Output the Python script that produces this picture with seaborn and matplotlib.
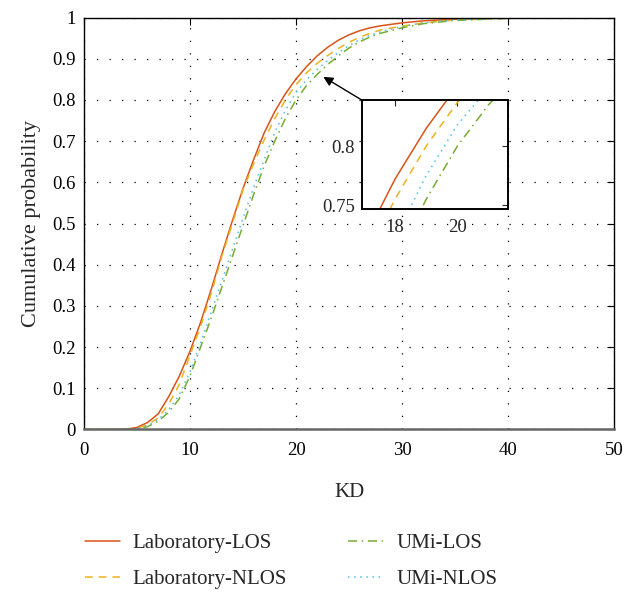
import numpy as np
import pandas as pd
import matplotlib
matplotlib.use("Agg")
import matplotlib.pyplot as plt
import seaborn as sns

# values (KD, cumulative probability)
kd = [0, 2, 3, 4, 5, 6, 7, 8, 9, 10, 11, 12, 13, 14, 15, 16, 17, 18, 19, 20,
      21, 22, 23, 24, 25, 26, 27, 28, 30, 32, 35, 40, 45, 50]
lab_los = [0, 0, 0, 0.001, 0.005, 0.017, 0.038, 0.08, 0.13, 0.19, 0.26, 0.34,
           0.425, 0.507, 0.585, 0.655, 0.72, 0.772, 0.815, 0.851, 0.881, 0.907,
           0.928, 0.945, 0.958, 0.968, 0.975, 0.98, 0.987, 0.992, 0.996, 0.999, 1, 1]
lab_nlos = [0, 0, 0, 0, 0.003, 0.011, 0.028, 0.062, 0.11, 0.18, 0.25, 0.33, 0.42,
            0.5, 0.582, 0.645, 0.703, 0.755, 0.8, 0.837, 0.866, 0.889, 0.908,
            0.925, 0.94, 0.952, 0.962, 0.97, 0.979, 0.987, 0.994, 0.998, 1, 1]
umi_los = [0, 0, 0, 0, 0.001, 0.007, 0.02, 0.042, 0.075, 0.13, 0.2, 0.27, 0.345,
           0.42, 0.495, 0.57, 0.64, 0.7, 0.755, 0.8, 0.835, 0.862, 0.886, 0.907,
           0.926, 0.941, 0.953, 0.962, 0.975, 0.985, 0.993, 0.998, 1, 1]
umi_nlos = [0, 0, 0, 0, 0.002, 0.009, 0.024, 0.048, 0.085, 0.14, 0.21, 0.285,
            0.36, 0.437, 0.513, 0.587, 0.655, 0.722, 0.775, 0.818, 0.849, 0.874,
            0.896, 0.915, 0.932, 0.946, 0.957, 0.966, 0.978, 0.987, 0.994, 0.998, 1, 1]

names = ["Laboratory-LOS", "Laboratory-NLOS", "UMi-LOS", "UMi-NLOS"]
colors = ["#D95319", "#EDB120", "#77AC30", "#4DBEEE"]
styles = ["-", (0, (5, 4)), (0, (6, 3, 1, 3)), (0, (1, 3))]

df = pd.DataFrame({"KD": kd * 4,
                   "p": lab_los + lab_nlos + umi_los + umi_nlos,
                   "series": sum([[n] * len(kd) for n in names], [])})

sns.set_style("white")
plt.rcParams["font.family"] = ["Liberation Serif", "DejaVu Serif"]
plt.rcParams["xtick.direction"] = "in"
plt.rcParams["ytick.direction"] = "in"

fig = plt.figure(figsize=(6.24, 5.92), dpi=100)
ax = fig.add_axes([0.1346, 0.2745, 0.8494, 0.6959])

handles = []
for n, c, ls in zip(names, colors, styles):
    sub = df[df["series"] == n]
    sns.lineplot(data=sub, x="KD", y="p", ax=ax, color=c, linestyle=ls,
                 linewidth=1.1, legend=False)
    handles.append(ax.lines[-1])

ax.set_xlim(0, 50)
ax.set_ylim(0, 1)
ax.set_xticks(range(0, 51, 10))
ax.set_yticks(np.arange(0, 1.01, 0.1))
ax.set_yticklabels(["0"] + [f"{v/10:.1f}" for v in range(1, 10)] + ["1"])
ax.tick_params(labelsize=13.5, top=True, right=True, length=5, width=0.8,
               colors="black")
ax.tick_params(axis="x", pad=9)
ax.tick_params(axis="y", pad=6)
ax.grid(True, color="black", linestyle=(0, (1, 9)), linewidth=0.9)
for s in ax.spines.values():
    s.set_color("black")
    s.set_linewidth(1.0)
ax.spines["bottom"].set_color("#666666")
ax.spines["bottom"].set_linewidth(1.8)
ax.set_xlabel("KD", fontsize=15, labelpad=17)
ax.set_ylabel("Cumulative probability", fontsize=16, labelpad=8)

# legend in two fixed columns
leg_kw = dict(loc="upper left", frameon=False, fontsize=15, handlelength=1.7,
              handletextpad=0.6, labelspacing=0.8, borderpad=0, borderaxespad=0)
fig.legend(handles[:2], names[:2], bbox_to_anchor=(0.136, 0.099), **leg_kw)
fig.legend(handles[2:], names[2:], bbox_to_anchor=(0.558, 0.099), **leg_kw)

# inset
ins = fig.add_axes([0.5796, 0.6465, 0.2349, 0.1846])
for n, c, ls in zip(names, colors, styles):
    sub = df[df["series"] == n]
    sns.lineplot(data=sub, x="KD", y="p", ax=ins, color=c, linestyle=ls,
                 linewidth=1.1, legend=False)
ins.set_xlim(16.93, 21.63)
ins.set_ylim(0.7464, 0.839)
ins.set_xticks([18, 20])
ins.set_yticks([0.75, 0.8])
ins.set_yticklabels(["0.75", "0.8"])
ins.set_xlabel("")
ins.set_ylabel("")
ins.tick_params(labelsize=13.5, top=True, right=True, length=4, width=0.8)
ins.tick_params(axis="x", pad=7)
ins.tick_params(axis="y", pad=5)
for s in ins.spines.values():
    s.set_color("black")
    s.set_linewidth(1.4)

ax.annotate("", xy=(22.58, 0.856), xytext=(0, 1), textcoords=ins.transAxes,
            arrowprops=dict(arrowstyle="-|>", color="black", lw=1.0,
                            mutation_scale=14, shrinkA=0, shrinkB=0))

fig.savefig("out.png", dpi=100)
